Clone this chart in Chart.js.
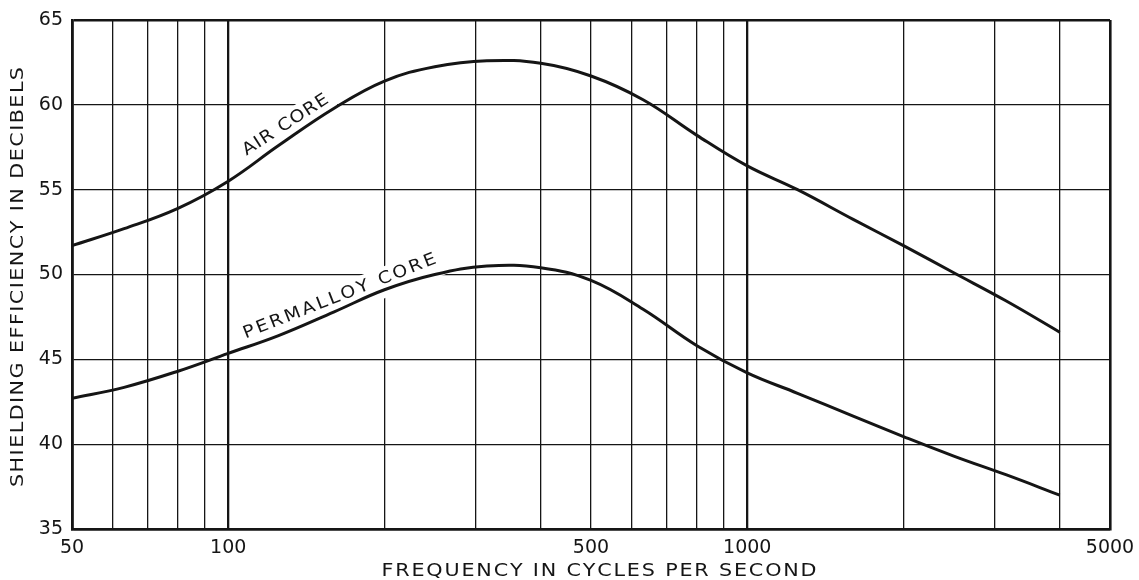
<!DOCTYPE html>
<html><head><meta charset="utf-8">
<script src="https://cdn.jsdelivr.net/npm/chart.js@4.4.1/dist/chart.umd.min.js"></script>
<style>html,body{margin:0;padding:0;background:#fff;}#wrap{width:1139px;height:580px;}</style>
</head><body><div id="wrap"><canvas id="c" width="1139" height="580"></canvas></div>
<script>
// ---- data ----
const frequencies   = [50,63,80,100,125,160,200,250,315,400,500,630,800,1000,1250,1600,2000,2500,3150,4000];
const airCore       = [51.7,52.7,53.9,55.5,57.6,59.8,61.4,62.25,62.6,62.45,61.7,60.3,58.2,56.4,55.0,53.25,51.7,50.1,48.45,46.6];
const permalloyCore = [42.7,43.35,44.3,45.35,46.4,47.8,49.1,50.0,50.5,50.4,49.65,47.95,45.8,44.2,43.0,41.65,40.45,39.3,38.2,37.0];
const xGridValues   = [50,60,70,80,90,100,200,300,400,500,600,700,800,900,1000,2000,3000,4000,5000];
const xTickLabels   = [50,100,500,1000,5000];
const yTickValues   = [35,40,45,50,55,60,65];
const xTitle = 'FREQUENCY IN CYCLES PER SECOND';
const yTitle = 'SHIELDING EFFICIENCY IN DECIBELS';
const curveNames = ['AIR CORE','PERMALLOY CORE'];

// ---- styling / placement ----
const INK = '#151515';
const FONT = '"DejaVu Sans", sans-serif';
const labelPlacement = [
  {fx:129, fy:58.8, angle:-33, width:99},
  {fx:164, fy:48.7, angle:-21.5, width:206}
];

function spacedText(ctx, text, cx, cy, angle, width, font, stretch){
  ctx.save();
  ctx.font = font;
  ctx.translate(cx, cy);
  ctx.rotate(angle*Math.PI/180);
  ctx.scale(stretch, 1);
  const w = width/stretch;
  const chars = [...text];
  const ws = chars.map(ch => ctx.measureText(ch).width);
  const nat = ws.reduce((a,b)=>a+b,0);
  const gap = chars.length>1 ? (w-nat)/(chars.length-1) : 0;
  let x = -w/2;
  ctx.textAlign='left'; ctx.textBaseline='middle'; ctx.fillStyle=INK;
  chars.forEach((ch,i)=>{ ctx.fillText(ch, x, 0); x += ws[i]+gap; });
  ctx.restore();
}
function whiteBox(ctx, cx, cy, angle, w, h, dy){
  ctx.save();
  ctx.translate(cx, cy);
  ctx.rotate(angle*Math.PI/180);
  ctx.fillStyle='#fff';
  ctx.fillRect(-w/2, -h/2+dy, w, h);
  ctx.restore();
}

const annotate = {
  id:'annotate',
  beforeDatasetsDraw(chart){
    const ctx = chart.ctx, xs = chart.scales.x, ys = chart.scales.y;
    labelPlacement.forEach((p,i)=>{
      const cx = xs.getPixelForValue(p.fx), cy = ys.getPixelForValue(p.fy);
      whiteBox(ctx, cx, cy, p.angle, p.width+10, 30, 3);
      spacedText(ctx, curveNames[i], cx, cy, p.angle, p.width, '17px '+FONT, 1.12);
    });
  },
  afterDraw(chart){
    const ctx = chart.ctx;
    spacedText(ctx, xTitle, 599, 571, 0, 435, '18px '+FONT, 1.15);
    spacedText(ctx, yTitle, 18, 277, -90, 420, '18px '+FONT, 1.15);
  }
};

new Chart(document.getElementById('c'), {
  type:'line',
  data:{
    datasets:[
      {label:curveNames[0], data:frequencies.map((f,i)=>({x:f,y:airCore[i]})),
       borderColor:INK, borderWidth:3, pointRadius:0, tension:0.4, fill:false},
      {label:curveNames[1], data:frequencies.map((f,i)=>({x:f,y:permalloyCore[i]})),
       borderColor:INK, borderWidth:3, pointRadius:0, tension:0.4, fill:false}
    ]
  },
  options:{
    responsive:false, animation:false, devicePixelRatio:1,
    layout:{padding:{left:0, top:20, right:29, bottom:0}},
    plugins:{legend:{display:false}, tooltip:{enabled:false}},
    scales:{
      x:{
        type:'logarithmic', min:50, max:5000,
        afterBuildTicks(s){ s.ticks = xGridValues.map(v=>({value:v})); },
        afterFit(s){ s.height = 51; s.paddingLeft = 0; s.paddingRight = 0; },
        ticks:{
          autoSkip:false, maxRotation:0, minRotation:0, padding:8,
          color:INK, font:{family:FONT, size:19},
          callback:(v)=> xTickLabels.includes(v) ? String(v) : ''
        },
        grid:{
          drawTicks:false, color:INK,
          lineWidth:(c)=>{ const v=c.tick&&c.tick.value; return (v===100||v===1000)?2.3:(v===5000||v===50?2.6:1.3); }
        },
        border:{display:true, color:INK, width:2.6}
      },
      y:{
        type:'linear', min:35, max:65,
        afterBuildTicks(s){ s.ticks = yTickValues.map(v=>({value:v})); },
        afterFit(s){ s.width = 72; s.paddingTop = 0; s.paddingBottom = 0; },
        ticks:{padding:9, color:INK, font:{family:FONT, size:19}},
        grid:{
          drawTicks:false, color:INK,
          lineWidth:(c)=>{ const v=c.tick&&c.tick.value; return (v===65||v===35)?2.6:1.3; }
        },
        border:{display:true, color:INK, width:2.6}
      }
    }
  },
  plugins:[annotate]
});
</script>
</body></html>
